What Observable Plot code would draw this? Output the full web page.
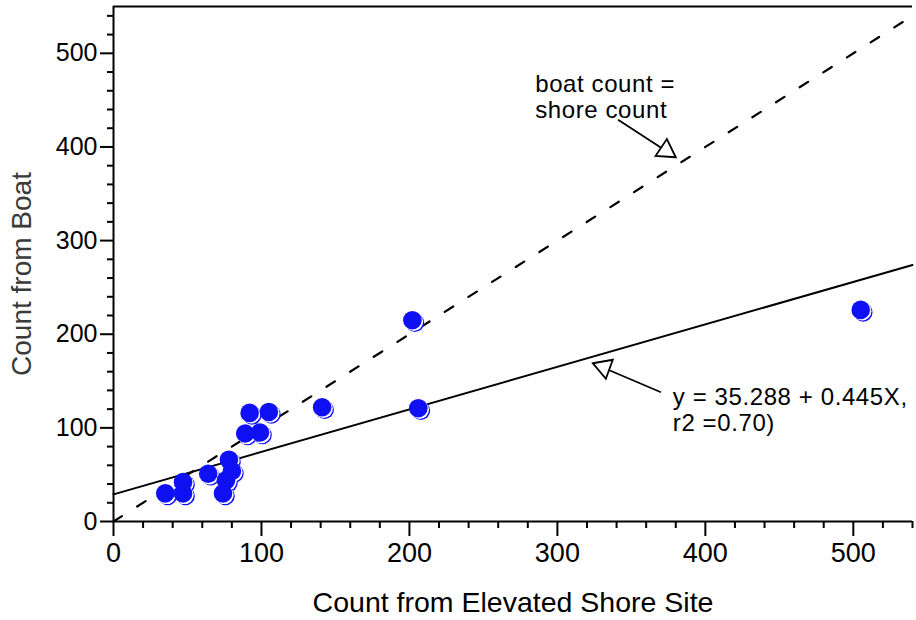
<!DOCTYPE html>
<html><head><meta charset="utf-8">
<script src="https://cdn.jsdelivr.net/npm/d3@7"></script>
<script src="https://cdn.jsdelivr.net/npm/@observablehq/plot@0.6"></script>
<style>
body{margin:0;background:#fff;}
</style></head><body><div id="chart"></div>
<script>
// Observations: count from elevated shore site (x) vs count from boat (y)
const shoreCount = [35, 47, 47, 64, 74, 76, 78, 80, 89, 92, 99, 105, 141, 202, 206, 505];
const boatCount  = [30, 30, 42, 51, 30, 44, 66, 54, 94, 116, 95, 117, 122, 215, 121, 226];

// Reference line boat = shore, and fitted regression line (endpoints)
const equalX = [0, 540];
const equalY = [0, 540];
const fitX = [0, 540];
const fitY = [29, 274];

// Axis ticks
const xMajorTicks = [0, 100, 200, 300, 400, 500];
const xMinorTicks = [20, 40, 60, 80, 120, 140, 160, 180, 220, 240, 260, 280, 320, 340, 360, 380, 420, 440, 460, 480, 520, 540];
const yMajorTicks = [0, 100, 200, 300, 400, 500];
const yMinorTicks = [20, 40, 60, 80, 120, 140, 160, 180, 220, 240, 260, 280, 320, 340, 360, 380, 420, 440, 460, 480, 520, 540];

// Annotations
const noteText = ["boat count =\nshore count", "y = 35.288 + 0.445X,\nr2 =0.70)"];
const noteX = [285, 378];
const noteY = [479, 144.5];
const arrowFromX = [341, 370];
const arrowFromY = [429, 138];
const arrowToX = [380, 324];
const arrowToY = [389, 169];

const xTitle = "Count from Elevated Shore Site";
const yTitle = "Count from Boat";

const font = "'Liberation Sans', Arial, Helvetica, sans-serif";
const blue = "#1010f5";
const pts = shoreCount.map((s, i) => ({shore: s, boat: boatCount[i]}));
const equalLine = equalX.map((x, i) => ({x, y: equalY[i]}));
const fitLine = fitX.map((x, i) => ({x, y: fitY[i]}));
const notes = noteText.map((t, i) => ({t, x: noteX[i], y: noteY[i]}));
const arrows = arrowFromX.map((x, i) => ({x1: x, y1: arrowFromY[i], x2: arrowToX[i], y2: arrowToY[i]}));

const plot = Plot.plot({
  width: 916, height: 620,
  marginLeft: 113, marginRight: 4, marginTop: 6, marginBottom: 99,
  x: {domain: [0, 540], label: null},
  y: {domain: [0, 550], label: null},
  style: {background: "white", color: "black", fontFamily: font},
  marks: [
    Plot.axisX(xMinorTicks, {tickSize: 7, tickFormat: () => "", strokeWidth: 2, label: null}),
    Plot.axisX(xMajorTicks, {tickSize: 15, tickFormat: () => "", strokeWidth: 2, label: null}),
    Plot.axisY(yMinorTicks, {tickSize: 6, tickFormat: () => "", strokeWidth: 2, label: null}),
    Plot.axisY(yMajorTicks, {tickSize: 13, tickFormat: () => "", strokeWidth: 2, label: null}),
    Plot.text(xMajorTicks, {x: d => d, frameAnchor: "bottom", lineAnchor: "top", dy: 21, fontSize: 27, fill: "black", fontFamily: font}),
    Plot.text(yMajorTicks, {y: d => d, frameAnchor: "left", textAnchor: "end", lineAnchor: "middle", dx: -16, fontSize: 25, fill: "black", fontFamily: font}),
    Plot.ruleY([0], {strokeWidth: 2}),
    Plot.ruleX([0], {strokeWidth: 2}),
    Plot.ruleY([550], {strokeWidth: 2}),
    Plot.line(equalLine, {x: "x", y: "y", stroke: "black", strokeWidth: 2.2, strokeDasharray: "10,18"}),
    Plot.line(fitLine, {x: "x", y: "y", stroke: "black", strokeWidth: 2}),
    Plot.dot(pts, {x: "shore", y: "boat", r: 9.3, fill: blue, dx: 2.5, dy: 2.5}),
    Plot.dot(pts, {x: "shore", y: "boat", r: 9.3, fill: "white", dx: 1.4, dy: 1.4}),
    Plot.dot(pts, {x: "shore", y: "boat", r: 9.3, fill: blue}),
    Plot.link(arrows, {x1: "x1", y1: "y1", x2: "x2", y2: "y2", stroke: "black", strokeWidth: 1.8}),
    Plot.dot([arrows[0]], {x: "x2", y: "y2", symbol: "triangle", r: 7.5, fill: "white", stroke: "black", strokeWidth: 1.8, rotate: 124, dx: -9.67, dy: -6.52}),
    Plot.dot([arrows[1]], {x: "x2", y: "y2", symbol: "triangle", r: 7.5, fill: "white", stroke: "black", strokeWidth: 1.8, rotate: 290, dx: 10.96, dy: 3.99}),
    Plot.text(notes, {x: "x", y: "y", text: "t", textAnchor: "start", lineAnchor: "top", lineHeight: 1.1, fontSize: 24, fill: "black", fontFamily: font}),
    Plot.text([xTitle], {frameAnchor: "bottom", textAnchor: "middle", dy: 90, fontSize: 28.5, fill: "black", fontFamily: font}),
    Plot.text([yTitle], {frameAnchor: "left", textAnchor: "middle", dx: -91, dy: 10, rotate: -90, fontSize: 28, fill: "#3a3a3a", fontFamily: font})
  ]
});
// letter spacing on annotation texts (Plot has no letterSpacing option)
plot.querySelectorAll("text").forEach(t => {
  const s = t.textContent;
  if (s.startsWith("boat count") || s.startsWith("y = ")) t.style.letterSpacing = "0.6px";
});
document.getElementById("chart").appendChild(plot);
</script></body></html>
